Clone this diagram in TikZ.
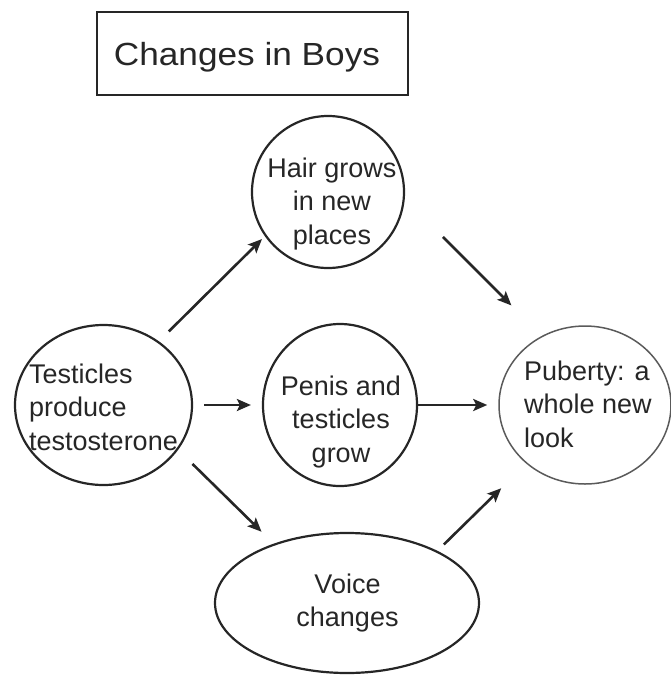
\documentclass[tikz,border=0pt]{standalone}
\usepackage{fontspec}
\setmainfont{Liberation Sans}
\usetikzlibrary{shapes.geometric,arrows.meta}
\definecolor{ink}{HTML}{262626}
\definecolor{softink}{HTML}{5A5A5A}
\begin{document}
\begin{tikzpicture}[x=1pt,y=-1pt,
  bubble/.style={draw=ink,line width=2.2pt,ellipse,inner sep=0pt},
  txt/.style={inner sep=0pt,text=ink,font=\fontsize{27}{33.5}\selectfont},
  arr/.style={draw=ink,line width=2.6pt,-{Stealth[length=14pt,width=12pt,inset=3pt]}}
]
\useasboundingbox (0,0) rectangle (671,675);

% title box
\node[draw=ink,line width=2.2pt,minimum width=311pt,minimum height=83pt,inner sep=0pt] (titlebox) at (252.5,53.5) {};
\node[txt,font=\fontsize{32}{38}\selectfont,anchor=base] (title) at (247,65) {\scalebox{1.1}[1]{Changes in Boys}};

% bubbles
\node[bubble,minimum width=177pt,minimum height=160pt] (test) at (103.5,405) {};
\node[bubble,minimum width=152pt,minimum height=152pt] (hair) at (328,192) {};
\node[bubble,minimum width=154pt,minimum height=162pt] (penis) at (340,405) {};
\node[bubble,draw=softink,line width=1.5pt,minimum width=172pt,minimum height=158pt] (pub) at (585,405) {};
\node[bubble,minimum width=264pt,minimum height=140pt] (voice) at (347,603) {};

% bubble texts
\node[txt,align=center,anchor=north] (hairtxt) at (332,153.5) {\strut Hair grows\\in new\\places};
\node[txt,align=center,anchor=north] (penistxt) at (341,371.5) {\strut Penis and\\testicles\\grow};
\node[txt,align=left,anchor=north west] (testtxt) at (29,359.5) {\strut Testicles\\produce\\testosterone};
\node[txt,align=left,anchor=north west] (pubtxt) at (524,356.5) {\strut Puberty: a\\whole new\\look};
\node[txt,align=center,anchor=north] (voicetxt) at (347.5,569.5) {\strut Voice\\changes};

% arrows
\draw[arr,shorten <=14pt,shorten >=4pt] (test.49) -- (hair.215);
\draw[arr,shorten <=54pt,shorten >=43pt] (hair.355) -- (pub.122);
\draw[arr,shorten <=11pt,shorten >=11pt] (test.east) -- (penis.west);
\draw[arr,shorten >=11pt] (penis.east) -- (pub.west);
\draw[arr,shorten <=20pt,shorten >=17pt] (test.329) -- (voice.141);
\draw[arr,shorten <=9pt,shorten >=35pt] (voice.30) -- (pub.225);
\end{tikzpicture}
\end{document}
